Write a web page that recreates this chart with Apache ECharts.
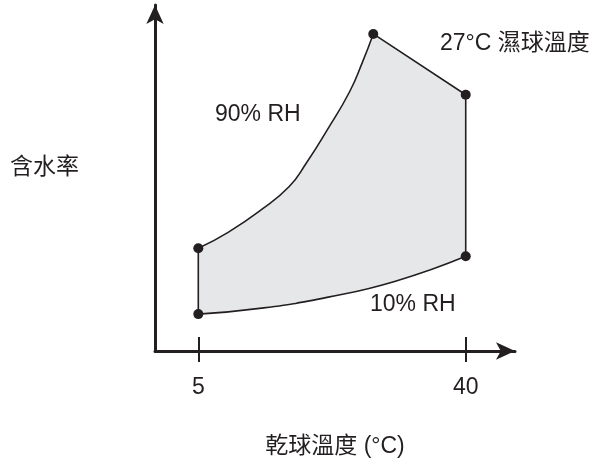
<!DOCTYPE html>
<html>
<head>
<meta charset="utf-8">
<script src="https://cdn.jsdelivr.net/npm/echarts@6/dist/echarts.min.js"></script>
<style>
  html, body { margin: 0; padding: 0; background: #ffffff; }
  #chart { width: 597px; height: 463px; }
</style>
</head>
<body>
<div id="chart"></div>
<script>
// 90% RH 曲线 (干球温度, 含水率) — 从图上读出
const rh90 = [[5, 10.3], [8.9, 11.9], [13.3, 14.2], [16.9, 16.5], [19.1, 18.8], [21.9, 22.2], [24.8, 26.0], [26.5, 29.0], [27.9, 31.8]];
// 10% RH 曲线
const rh10 = [[5, 3.7], [13.3, 4.3], [22.0, 5.4], [30.8, 7.0], [40, 9.5]];
// 27°C 湿球线 + 右侧边
const wetBulb = [[27.9, 31.8], [40, 25.7], [40, 9.5]];
const leftEdge = [[5, 3.7], [5, 10.3]];
// 角点
const corners = [[5, 3.7], [5, 10.3], [27.9, 31.8], [40, 25.7], [40, 9.5]];
const xTicks = [5, 40];

const ink = '#231f20';
const fontEn = 'Liberation Sans, Arial, Noto Sans CJK TC, sans-serif';
const fs = 23;

// 阴影区域的边界：下曲线 -> 右侧 -> 上曲线(反向)
const outline = rh10.concat(wetBulb.slice(0, 2).reverse()).concat(rh90.slice(0, -1).reverse());

const chart = echarts.init(document.getElementById('chart'));

function label(text, x, y) {
  return {
    type: 'text', x: x, y: y,
    style: { text: text, fontSize: fs, fill: ink, fontFamily: fontEn, align: 'left', verticalAlign: 'middle' }
  };
}

const option = {
  backgroundColor: '#ffffff',
  animation: false,
  grid: { left: 155, right: 82, top: 5, bottom: 111 },
  xAxis: [{
    type: 'value',
    min: -0.667,
    max: 46.45,
    splitLine: { show: false },
    axisLine: { onZero: false, lineStyle: { color: ink, width: 3 }, symbol: ['none', 'arrow'], symbolSize: [13, 19] },
    axisTick: { show: true, customValues: xTicks, length: 11, lineStyle: { color: ink, width: 2 } },
    axisLabel: { customValues: xTicks, margin: 25, fontSize: fs, color: ink, fontFamily: fontEn },
    name: '乾球溫度 (°C)',
    nameLocation: 'middle',
    nameGap: 84,
    nameTextStyle: { fontSize: fs, color: ink, fontFamily: fontEn }
  }, {
    type: 'value',
    position: 'bottom',
    min: -0.667,
    max: 46.45,
    splitLine: { show: false },
    axisLine: { show: false, onZero: false },
    axisTick: { show: true, inside: true, customValues: xTicks, length: 14, lineStyle: { color: ink, width: 2 } },
    axisLabel: { show: false }
  }],
  yAxis: {
    type: 'value',
    min: 0,
    max: 34.7,
    splitLine: { show: false },
    axisLine: { onZero: false, lineStyle: { color: ink, width: 3 }, symbol: ['none', 'arrow'], symbolSize: [13, 19] },
    axisTick: { show: false },
    axisLabel: { show: false }
  },
  graphic: [
    label('含水率', 10, 168),
    label('90% RH', 215, 115),
    label('10% RH', 370, 305),
    label('27°C 濕球溫度', 440, 44)
  ],
  series: [
    {
      type: 'custom',
      silent: true,
      data: [0],
      renderItem: function (params, api) {
        return {
          type: 'polygon',
          shape: { points: outline.map(function (p) { return api.coord(p); }) },
          style: { fill: '#e6e7e8', stroke: 'none' }
        };
      },
      z: 1
    },
    {
      type: 'line', data: rh90, smooth: 0.5, showSymbol: false,
      lineStyle: { color: ink, width: 1.6 }, z: 2
    },
    {
      type: 'line', data: rh10, smooth: 0.5, showSymbol: false,
      lineStyle: { color: ink, width: 1.6 }, z: 2
    },
    {
      type: 'line', data: wetBulb, showSymbol: false,
      lineStyle: { color: ink, width: 1.6 }, z: 2
    },
    {
      type: 'line', data: leftEdge, showSymbol: false,
      lineStyle: { color: ink, width: 1.6 }, z: 2
    },
    {
      type: 'scatter', data: corners, symbolSize: 10,
      itemStyle: { color: ink, opacity: 1 }, z: 3
    }
  ]
};

chart.setOption(option);
</script>
</body>
</html>
